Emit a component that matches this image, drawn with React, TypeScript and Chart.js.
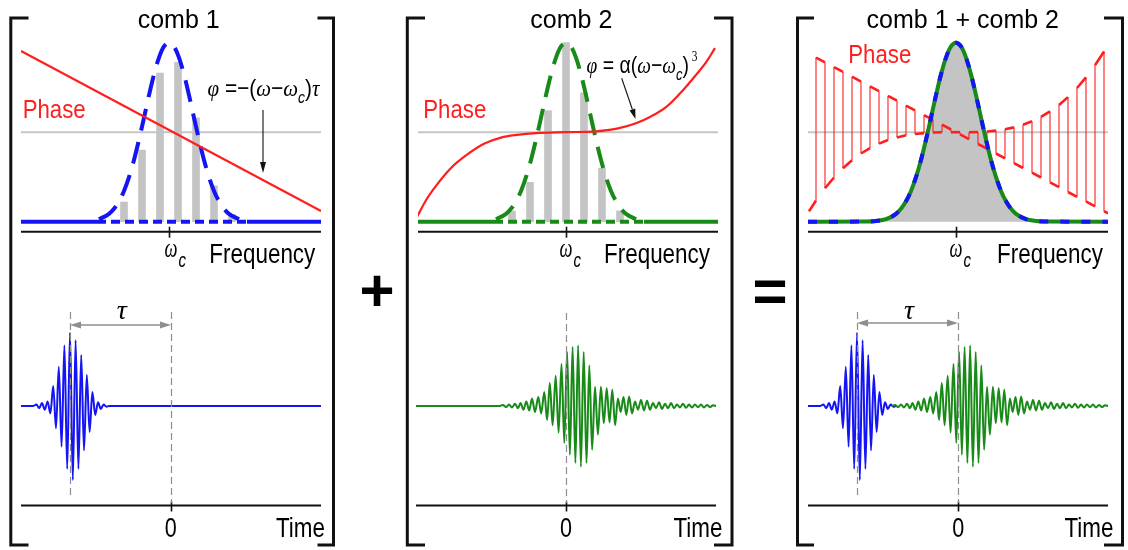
import React, { useEffect, useRef } from "react";
import { Chart, registerables } from "chart.js";

Chart.register(...registerables);

// ===================== DATA =====================
// Frequency axis = offset from ωc. Spectra normalised to peak 1; phase drawn on same axis (0.5 = zero phase).
const comb1Freq = [-45, -27, -9, 9, 27, 45, 63];
const comb1Amp = [0.11, 0.4, 0.83, 0.89, 0.58, 0.2, 0.04];
const comb2Freq = [-54, -36, -18, 0, 18, 36, 54];
const comb2Amp = [0.06, 0.22, 0.62, 1.0, 0.72, 0.3, 0.06];
const envelopeFreq = [-70, -60, -55, -50, -45, -40, -35, -30, -25, -20, -15, -10, -5, 0, 5, 10, 15, 20, 25, 30, 35, 40, 45, 50, 55, 60, 70];
const envelopeAmp = [0.014, 0.044, 0.072, 0.114, 0.172, 0.249, 0.345, 0.458, 0.581, 0.707, 0.823, 0.917, 0.979, 1, 0.979, 0.917, 0.823, 0.707, 0.581, 0.458, 0.345, 0.249, 0.172, 0.114, 0.072, 0.044, 0.014];
const spectrumTailFreq = [-148, -90, -80, 80, 90, 152];
const spectrumTailAmp = [0, 0.001, 0.004, 0.004, 0.001, 0];
const baselineFreq = [-148, -72, 78, 152];
const zeroPhase = 0.5;
const linearPhaseFreq = [-148, 152];
const linearPhase = [0.954, 0.06];
const cubicPhaseFreq = [-149, -140, -130, -115, -100, -82, -65, -49, -30, 0, 30, 51, 70, 84, 100, 117, 130, 140, 149];
const cubicPhase = [0.026, 0.12, 0.2, 0.3, 0.37, 0.435, 0.47, 0.485, 0.495, 0.5, 0.505, 0.52, 0.55, 0.585, 0.64, 0.735, 0.82, 0.89, 0.97];
const sumPhaseFreq = [-147, -140, -131, -122, -113, -104, -95, -86, -77, -68, -59, -50, -41, -32, -23, -14, -5, 4, 13, 22, 31, 40, 49, 58, 67, 76, 85, 94, 103, 112, 121, 130, 139, 148, 152];
const sumPhaseLinear = [0.938, 0.917, 0.89, 0.864, 0.837, 0.81, 0.783, 0.756, 0.729, 0.703, 0.676, 0.649, 0.622, 0.595, 0.569, 0.542, 0.515, 0.488, 0.461, 0.434, 0.408, 0.381, 0.354, 0.327, 0.3, 0.274, 0.247, 0.22, 0.193, 0.166, 0.139, 0.113, 0.086, 0.059, 0.047];
const sumPhaseCubic = [0.058, 0.118, 0.187, 0.247, 0.299, 0.343, 0.381, 0.411, 0.436, 0.456, 0.471, 0.483, 0.49, 0.495, 0.498, 0.5, 0.5, 0.5, 0.5, 0.501, 0.504, 0.509, 0.516, 0.527, 0.542, 0.561, 0.586, 0.616, 0.652, 0.696, 0.747, 0.806, 0.874, 0.951, 0.989];

// Time axis = offset from t = 0. Field extrema (peak blue field = 1).
const pulse1Time = [-150, -138, -134.6, -131.8, -129, -126.2, -123.4, -120.6, -117.8, -115, -112.2, -109.4, -106.6, -103.8, -101, -98.2, -95.4, -92.6, -89.8, -87, -84.2, -81.4, -78.6, -75.8, -73, -70.2, -67.4, -64.6, -62, 150];
const pulse1Field = [0, 0, 0.02, -0.03, 0.04, -0.05, 0.06, -0.1, 0.27, -0.3, 0.53, -0.55, 0.82, -0.85, 0.99, -1.0, 0.89, -0.85, 0.69, -0.6, 0.42, -0.35, 0.19, -0.12, 0.05, -0.04, 0.02, -0.01, 0, 0];
const pulse2Time = [-150, -66, -63, -60, -57, -54, -51, -48, -45.5, -42.5, -39.7, -36.8, -34, -31, -27.7, -24.8, -21.7, -18.9, -16.2, -13.4, -10.3, -7.4, -4.5, -1.7, 1.1, 3.9, 6.6, 9.4, 12.1, 14.9, 17.7, 20.5, 23.3, 26.1, 29, 31.9, 34.9, 37.8, 40.7, 43.5, 46.3, 49.1, 51.9, 54.7, 57.5, 60.3, 63.1, 66, 69, 72, 75, 78, 81, 84, 87, 90, 93, 96, 99, 102, 105, 108, 111, 114, 117, 120, 123, 126, 129, 132, 135, 138, 141, 144, 147, 150];
const pulse2Field = [0, 0, 0.015, -0.015, 0.02, -0.02, 0.03, -0.03, 0.04, -0.05, 0.06, -0.06, 0.1, -0.08, 0.12, -0.1, 0.19, -0.19, 0.31, -0.26, 0.41, -0.36, 0.57, -0.5, 0.73, -0.66, 0.8, -0.77, 0.82, -0.82, 0.73, -0.77, 0.55, -0.59, 0.26, -0.39, 0.26, -0.23, 0.24, -0.22, 0.22, -0.26, 0.1, -0.08, 0.12, -0.12, 0.13, -0.1, 0.06, -0.05, 0.08, -0.06, 0.07, -0.05, 0.04, -0.03, 0.05, -0.04, 0.03, -0.03, 0.04, -0.03, 0.02, -0.02, 0.03, -0.025, 0.02, -0.02, 0.02, -0.015, 0.02, -0.02, 0.015, -0.015, 0.01, 0];
const tauDelay = -101;
const pulseJoin = -62;

// ===================== STYLE / LAYOUT =====================
const BLUE = "#1414f5";
const GREEN = "#178a17";
const RED = "#ff1e1e";
const GRAY_BAR = "#c4c4c4";
const GRAY_LINE = "#c6c6c6";
const GUIDE = "#8e8e8e";
const SANS = "'Liberation Sans', Arial, Helvetica, sans-serif";
const SERIF = "'Liberation Serif', 'Times New Roman', serif";

const FREQ_MIN = -148, FREQ_MAX = 152;
const TIME_MIN = -150, TIME_MAX = 150;
const TOP_Y = 30, TOP_H = 212, SPEC_BASE_Y = 221.7, SPEC_SCALE = 179, FREQ_AXIS_Y = 231.7;
const BOT_Y = 298, BOT_H = 220, TIME_ZERO_Y = 406, TIME_SCALE = 74, TIME_AXIS_Y = 505.5;
const PANELS = [
  { wc: 169, t0: 171 },
  { wc: 566, t0: 566 },
  { wc: 956, t0: 958 },
];

type Box = { left: number; top: number; width: number; height: number };

const pts = (xs: number[], ys: number[]) => xs.map((x, i) => ({ x, y: ys[i] }));

function lineDs(data: any[], color: string, width: number, order: number, extra: any = {}) {
  return {
    type: "line",
    data,
    borderColor: color,
    borderWidth: width,
    pointRadius: 0,
    fill: false,
    tension: 0,
    order,
    ...extra,
  };
}

function baseOptions(xmin: number, xmax: number, top: number, height: number, zeroY: number, scale: number) {
  return {
    responsive: false,
    animation: false,
    devicePixelRatio: 1,
    events: [],
    layout: { padding: 0 },
    plugins: { legend: { display: false }, tooltip: { enabled: false }, title: { display: false } },
    scales: {
      x: { type: "linear", min: xmin, max: xmax, display: false, offset: false, grid: { offset: false } },
      y: { type: "linear", min: (zeroY - (top + height)) / scale, max: (zeroY - top) / scale, display: false },
    },
  };
}

function freqAxisPlugin(top: number) {
  return {
    id: "freqAxis",
    beforeDatasetsDraw(chart: any) {
      const { ctx, chartArea, scales } = chart;
      const y = FREQ_AXIS_Y - top;
      ctx.save();
      ctx.strokeStyle = "#111";
      ctx.lineWidth = 2;
      ctx.beginPath();
      ctx.moveTo(chartArea.left, y);
      ctx.lineTo(chartArea.right, y);
      ctx.stroke();
      const x0 = Math.round(scales.x.getPixelForValue(0)) + 0.5;
      ctx.lineWidth = 1.6;
      ctx.beginPath();
      ctx.moveTo(x0, y - 5);
      ctx.lineTo(x0, y + 6);
      ctx.stroke();
      ctx.restore();
    },
  };
}

type Ref = { t: number; y1: number; y2: number };
function timeAxisPlugin(top: number, refs: Ref[], tauY: number | null) {
  return {
    id: "timeAxis",
    beforeDatasetsDraw(chart: any) {
      const { ctx, chartArea, scales } = chart;
      const y = TIME_AXIS_Y - top;
      ctx.save();
      ctx.strokeStyle = "#111";
      ctx.lineWidth = 2;
      ctx.beginPath();
      ctx.moveTo(chartArea.left, y);
      ctx.lineTo(chartArea.right, y);
      ctx.stroke();
      const x0 = Math.round(scales.x.getPixelForValue(0)) + 0.5;
      ctx.lineWidth = 1.6;
      ctx.beginPath();
      ctx.moveTo(x0, y - 4);
      ctx.lineTo(x0, y + 6);
      ctx.stroke();
      ctx.restore();
    },
    afterDatasetsDraw(chart: any) {
      const { ctx, scales } = chart;
      ctx.save();
      ctx.strokeStyle = GUIDE;
      ctx.lineWidth = 1.2;
      ctx.setLineDash([7, 4]);
      refs.forEach((r) => {
        const x = Math.round(scales.x.getPixelForValue(r.t)) + 0.5;
        ctx.beginPath();
        ctx.moveTo(x, r.y1 - top);
        ctx.lineTo(x, r.y2 - top);
        ctx.stroke();
      });
      ctx.setLineDash([]);
      if (tauY !== null) {
        const xa = scales.x.getPixelForValue(tauDelay);
        const xb = scales.x.getPixelForValue(0);
        const yy = tauY - top;
        ctx.lineWidth = 1.5;
        ctx.beginPath();
        ctx.moveTo(xa + 6, yy);
        ctx.lineTo(xb - 6, yy);
        ctx.stroke();
        ctx.fillStyle = GUIDE;
        ctx.beginPath();
        ctx.moveTo(xa, yy);
        ctx.lineTo(xa + 11, yy - 3.5);
        ctx.lineTo(xa + 11, yy + 3.5);
        ctx.closePath();
        ctx.fill();
        ctx.beginPath();
        ctx.moveTo(xb, yy);
        ctx.lineTo(xb - 11, yy - 3.5);
        ctx.lineTo(xb - 11, yy + 3.5);
        ctx.closePath();
        ctx.fill();
      }
      ctx.restore();
    },
  };
}

function ChartCanvas({ box, build }: { box: Box; build: () => any }) {
  const ref = useRef<HTMLCanvasElement | null>(null);
  useEffect(() => {
    if (!ref.current) return;
    const chart = new Chart(ref.current, build());
    return () => chart.destroy();
  }, []);
  return (
    <canvas
      ref={ref}
      width={box.width}
      height={box.height}
      style={{ position: "absolute", left: box.left, top: box.top, width: box.width, height: box.height }}
    />
  );
}

const topBox = (wc: number): Box => ({ left: wc + FREQ_MIN, top: TOP_Y, width: FREQ_MAX - FREQ_MIN, height: TOP_H });
const botBox = (t0: number): Box => ({ left: t0 + TIME_MIN, top: BOT_Y, width: TIME_MAX - TIME_MIN, height: BOT_H });

function combSpectrumConfig(freq: number[], amp: number[], color: string, phase: any, phaseExtra: any) {
  const zeroLine = pts([FREQ_MIN, FREQ_MAX], [zeroPhase, zeroPhase]);
  return {
    type: "line",
    data: {
      datasets: [
        { type: "bar", data: pts(freq, amp), backgroundColor: GRAY_BAR, borderWidth: 0, barThickness: 7, grouped: false, order: 10 },
        lineDs(zeroLine, GRAY_LINE, 2, 11),
        lineDs(pts(baselineFreq.slice(0, 2), [0, 0]), color, 4, 5),
        lineDs(pts(baselineFreq.slice(2, 4), [0, 0]), color, 4, 5),
        lineDs(pts(baselineFreq.slice(1, 3), [0, 0]), color, 4, 5, { borderDash: [9, 5] }),
        lineDs(pts(envelopeFreq, envelopeAmp), color, 4, 4, { borderDash: [22, 12], cubicInterpolationMode: "monotone" }),
        lineDs(phase, RED, 2.2, 1, phaseExtra),
      ],
    },
    options: baseOptions(FREQ_MIN, FREQ_MAX, TOP_Y, TOP_H, SPEC_BASE_Y, SPEC_SCALE),
    plugins: [freqAxisPlugin(TOP_Y)],
  };
}

function sumSpectrumConfig() {
  const freq = [...spectrumTailFreq.slice(0, 3), ...envelopeFreq, ...spectrumTailFreq.slice(3)];
  const amp = [...spectrumTailAmp.slice(0, 3), ...envelopeAmp, ...spectrumTailAmp.slice(3)];
  const spec = pts(freq, amp);
  const saw: { x: number; y: number }[] = [];
  for (let i = 0; i < sumPhaseFreq.length - 1; i++) {
    const src = i % 2 === 0 ? sumPhaseCubic : sumPhaseLinear;
    saw.push({ x: sumPhaseFreq[i], y: src[i] }, { x: sumPhaseFreq[i + 1], y: src[i + 1] });
  }
  return {
    type: "line",
    data: {
      datasets: [
        lineDs(pts([FREQ_MIN, FREQ_MAX], [zeroPhase, zeroPhase]), GRAY_LINE, 2, 12),
        lineDs(spec, "rgba(0,0,0,0)", 0, 11, { fill: "origin", backgroundColor: GRAY_BAR, cubicInterpolationMode: "monotone" }),
        lineDs(saw, RED, 2.6, 3, {
          segment: { borderWidth: (c: any) => (c.p0.parsed.x === c.p1.parsed.x ? 1.1 : 2.6) },
        }),
        lineDs(spec, GREEN, 4, 2, { cubicInterpolationMode: "monotone" }),
        lineDs(spec, BLUE, 4, 1, { cubicInterpolationMode: "monotone", borderDash: [9, 12] }),
      ],
    },
    options: baseOptions(FREQ_MIN, FREQ_MAX, TOP_Y, TOP_H, SPEC_BASE_Y, SPEC_SCALE),
    plugins: [freqAxisPlugin(TOP_Y)],
  };
}

function timeConfig(datasets: any[], refs: Ref[], tauY: number | null) {
  return {
    type: "line",
    data: { datasets },
    options: baseOptions(TIME_MIN, TIME_MAX, BOT_Y, BOT_H, TIME_ZERO_Y, TIME_SCALE),
    plugins: [timeAxisPlugin(BOT_Y, refs, tauY)],
  };
}

const pulse1 = () => pts(pulse1Time, pulse1Field);
const pulse2 = () => pts(pulse2Time, pulse2Field);

function Overlay() {
  const brackets = [
    "M28.5 18 H10.8 V545 H28.5",
    "M317.5 18 H333.5 V545 H317.5",
    "M425 18 H407.3 V545 H425",
    "M714 18 H732 V545 H714",
    "M814 18 H797.5 V545 H814",
    "M1104 18 H1122.5 V545 H1104",
  ];
  const wcLabels = [164.5, 559.5, 949.5];
  const freqLabels = [209.3, 604, 997];
  const zeroLabels = [170.7, 566, 958.3];
  const timeLabels = [276, 673.5, 1064.5];
  return (
    <svg width={1128} height={550} style={{ position: "absolute", left: 0, top: 0 }}>
      {brackets.map((d, i) => (
        <path key={i} d={d} fill="none" stroke="#111" strokeWidth={3} strokeLinejoin="miter" />
      ))}
      <text x={178.7} y={27.7} fontSize={25} textAnchor="middle" fontFamily={SANS} fill="#000">comb 1</text>
      <text x={571.3} y={27.7} fontSize={25} textAnchor="middle" fontFamily={SANS} fill="#000">comb 2</text>
      <text x={962.8} y={27.7} fontSize={25} textAnchor="middle" fontFamily={SANS} fill="#000">comb 1 + comb 2</text>

      <text x={22.7} y={118.3} fontSize={26} fontFamily={SANS} fill={RED} textLength={63} lengthAdjust="spacingAndGlyphs">Phase</text>
      <text x={423.3} y={118.3} fontSize={26} fontFamily={SANS} fill={RED} textLength={63} lengthAdjust="spacingAndGlyphs">Phase</text>
      <text x={848.3} y={63.3} fontSize={26} fontFamily={SANS} fill={RED} textLength={63} lengthAdjust="spacingAndGlyphs">Phase</text>

      {freqLabels.map((x, i) => (
        <text key={"f" + i} x={x} y={263.3} fontSize={27.5} fontFamily={SANS} fill="#000" textLength={106} lengthAdjust="spacingAndGlyphs">Frequency</text>
      ))}
      {wcLabels.map((x, i) => (
        <g key={"w" + i}>
          <text x={x} y={257} fontSize={28} fontFamily={SERIF} fontStyle="italic" fill="#000" textLength={13} lengthAdjust="spacingAndGlyphs">ω</text>
          <text x={x + 14} y={267} fontSize={21} fontFamily={SANS} fontStyle="italic" fill="#000" textLength={7.5} lengthAdjust="spacingAndGlyphs">c</text>
        </g>
      ))}
      {zeroLabels.map((x, i) => (
        <text key={"z" + i} x={x} y={536.7} fontSize={27} fontFamily={SANS} textAnchor="middle" fill="#000" textLength={12} lengthAdjust="spacingAndGlyphs">0</text>
      ))}
      {timeLabels.map((x, i) => (
        <text key={"t" + i} x={x} y={536.7} fontSize={27} fontFamily={SANS} fill="#000" textLength={49} lengthAdjust="spacingAndGlyphs">Time</text>
      ))}
      <text x={121.7} y={319.3} fontSize={28} fontFamily={SERIF} fontStyle="italic" textAnchor="middle" fill="#000">τ</text>
      <text x={909} y={319.3} fontSize={28} fontFamily={SERIF} fontStyle="italic" textAnchor="middle" fill="#000">τ</text>

      {/* formula 1 */}
      <text x={207.5} y={96} fontSize={24} fill="#000" textLength={112} lengthAdjust="spacingAndGlyphs">
        <tspan fontFamily={SERIF} fontStyle="italic">φ</tspan>
        <tspan fontFamily={SANS}>{" =−("}</tspan>
        <tspan fontFamily={SERIF} fontStyle="italic">ω</tspan>
        <tspan fontFamily={SANS}>−</tspan>
        <tspan fontFamily={SERIF} fontStyle="italic">ω</tspan>
        <tspan dy={7} fontFamily={SANS} fontStyle="italic" fontSize={16}>c</tspan>
        <tspan dy={-7} fontFamily={SANS}>)</tspan>
        <tspan fontFamily={SERIF} fontStyle="italic">τ</tspan>
      </text>
      <line x1={263} y1={110} x2={263} y2={164} stroke="#111" strokeWidth={1.1} />
      <polygon points="263,173 260,162 266,162" fill="#111" />

      {/* formula 2 */}
      <text x={586.5} y={73} fontSize={24} fill="#000" textLength={111} lengthAdjust="spacingAndGlyphs">
        <tspan fontFamily={SERIF} fontStyle="italic">φ</tspan>
        <tspan fontFamily={SANS}>{" = α("}</tspan>
        <tspan fontFamily={SERIF} fontStyle="italic">ω</tspan>
        <tspan fontFamily={SANS}>−</tspan>
        <tspan fontFamily={SERIF} fontStyle="italic">ω</tspan>
        <tspan dy={7} fontFamily={SANS} fontStyle="italic" fontSize={16}>c</tspan>
        <tspan dy={-7} fontFamily={SANS}>)</tspan>
        <tspan dy={-12} fontFamily={SERIF} fontSize={14}>{" 3"}</tspan>
      </text>
      <line x1={621.7} y1={78.3} x2={632.4} y2={109.5} stroke="#111" strokeWidth={1.1} />
      <polygon points="635.5,119 635.25,108.6 629.55,110.4" fill="#111" />

      <text x={377} y={311} fontSize={60} fontWeight="bold" fontFamily={SANS} textAnchor="middle" fill="#000">+</text>
      <text x={770} y={311} fontSize={60} fontWeight="bold" fontFamily={SANS} textAnchor="middle" fill="#000">=</text>
    </svg>
  );
}

export default function App() {
  const [p1, p2, p3] = PANELS;
  return (
    <div style={{ position: "absolute", left: 0, top: 0, width: 1128, height: 550, background: "#fff", overflow: "hidden" }}>
      <ChartCanvas
        box={topBox(p1.wc)}
        build={() => combSpectrumConfig(comb1Freq, comb1Amp, BLUE, pts(linearPhaseFreq, linearPhase), {})}
      />
      <ChartCanvas
        box={topBox(p2.wc)}
        build={() => combSpectrumConfig(comb2Freq, comb2Amp, GREEN, pts(cubicPhaseFreq, cubicPhase), { cubicInterpolationMode: "monotone" })}
      />
      <ChartCanvas box={topBox(p3.wc)} build={() => sumSpectrumConfig()} />

      <ChartCanvas
        box={botBox(p1.t0)}
        build={() =>
          timeConfig(
            [lineDs(pulse1(), BLUE, 2, 1, { cubicInterpolationMode: "monotone" })],
            [
              { t: tauDelay, y1: 312, y2: 497 },
              { t: 0, y1: 312, y2: 503 },
            ],
            325
          )
        }
      />
      <ChartCanvas
        box={botBox(p2.t0)}
        build={() =>
          timeConfig(
            [lineDs(pulse2(), GREEN, 2, 1, { cubicInterpolationMode: "monotone" })],
            [{ t: 0, y1: 313, y2: 503 }],
            null
          )
        }
      />
      <ChartCanvas
        box={botBox(p3.t0)}
        build={() =>
          timeConfig(
            [
              lineDs(pulse1().filter((p) => p.x <= pulseJoin), BLUE, 2, 2, { cubicInterpolationMode: "monotone" }),
              lineDs(pulse2().filter((p) => p.x >= pulseJoin - 4), GREEN, 2, 1, { cubicInterpolationMode: "monotone" }),
            ],
            [
              { t: tauDelay, y1: 312, y2: 497 },
              { t: 0, y1: 312, y2: 503 },
            ],
            323
          )
        }
      />
      <Overlay />
    </div>
  );
}
